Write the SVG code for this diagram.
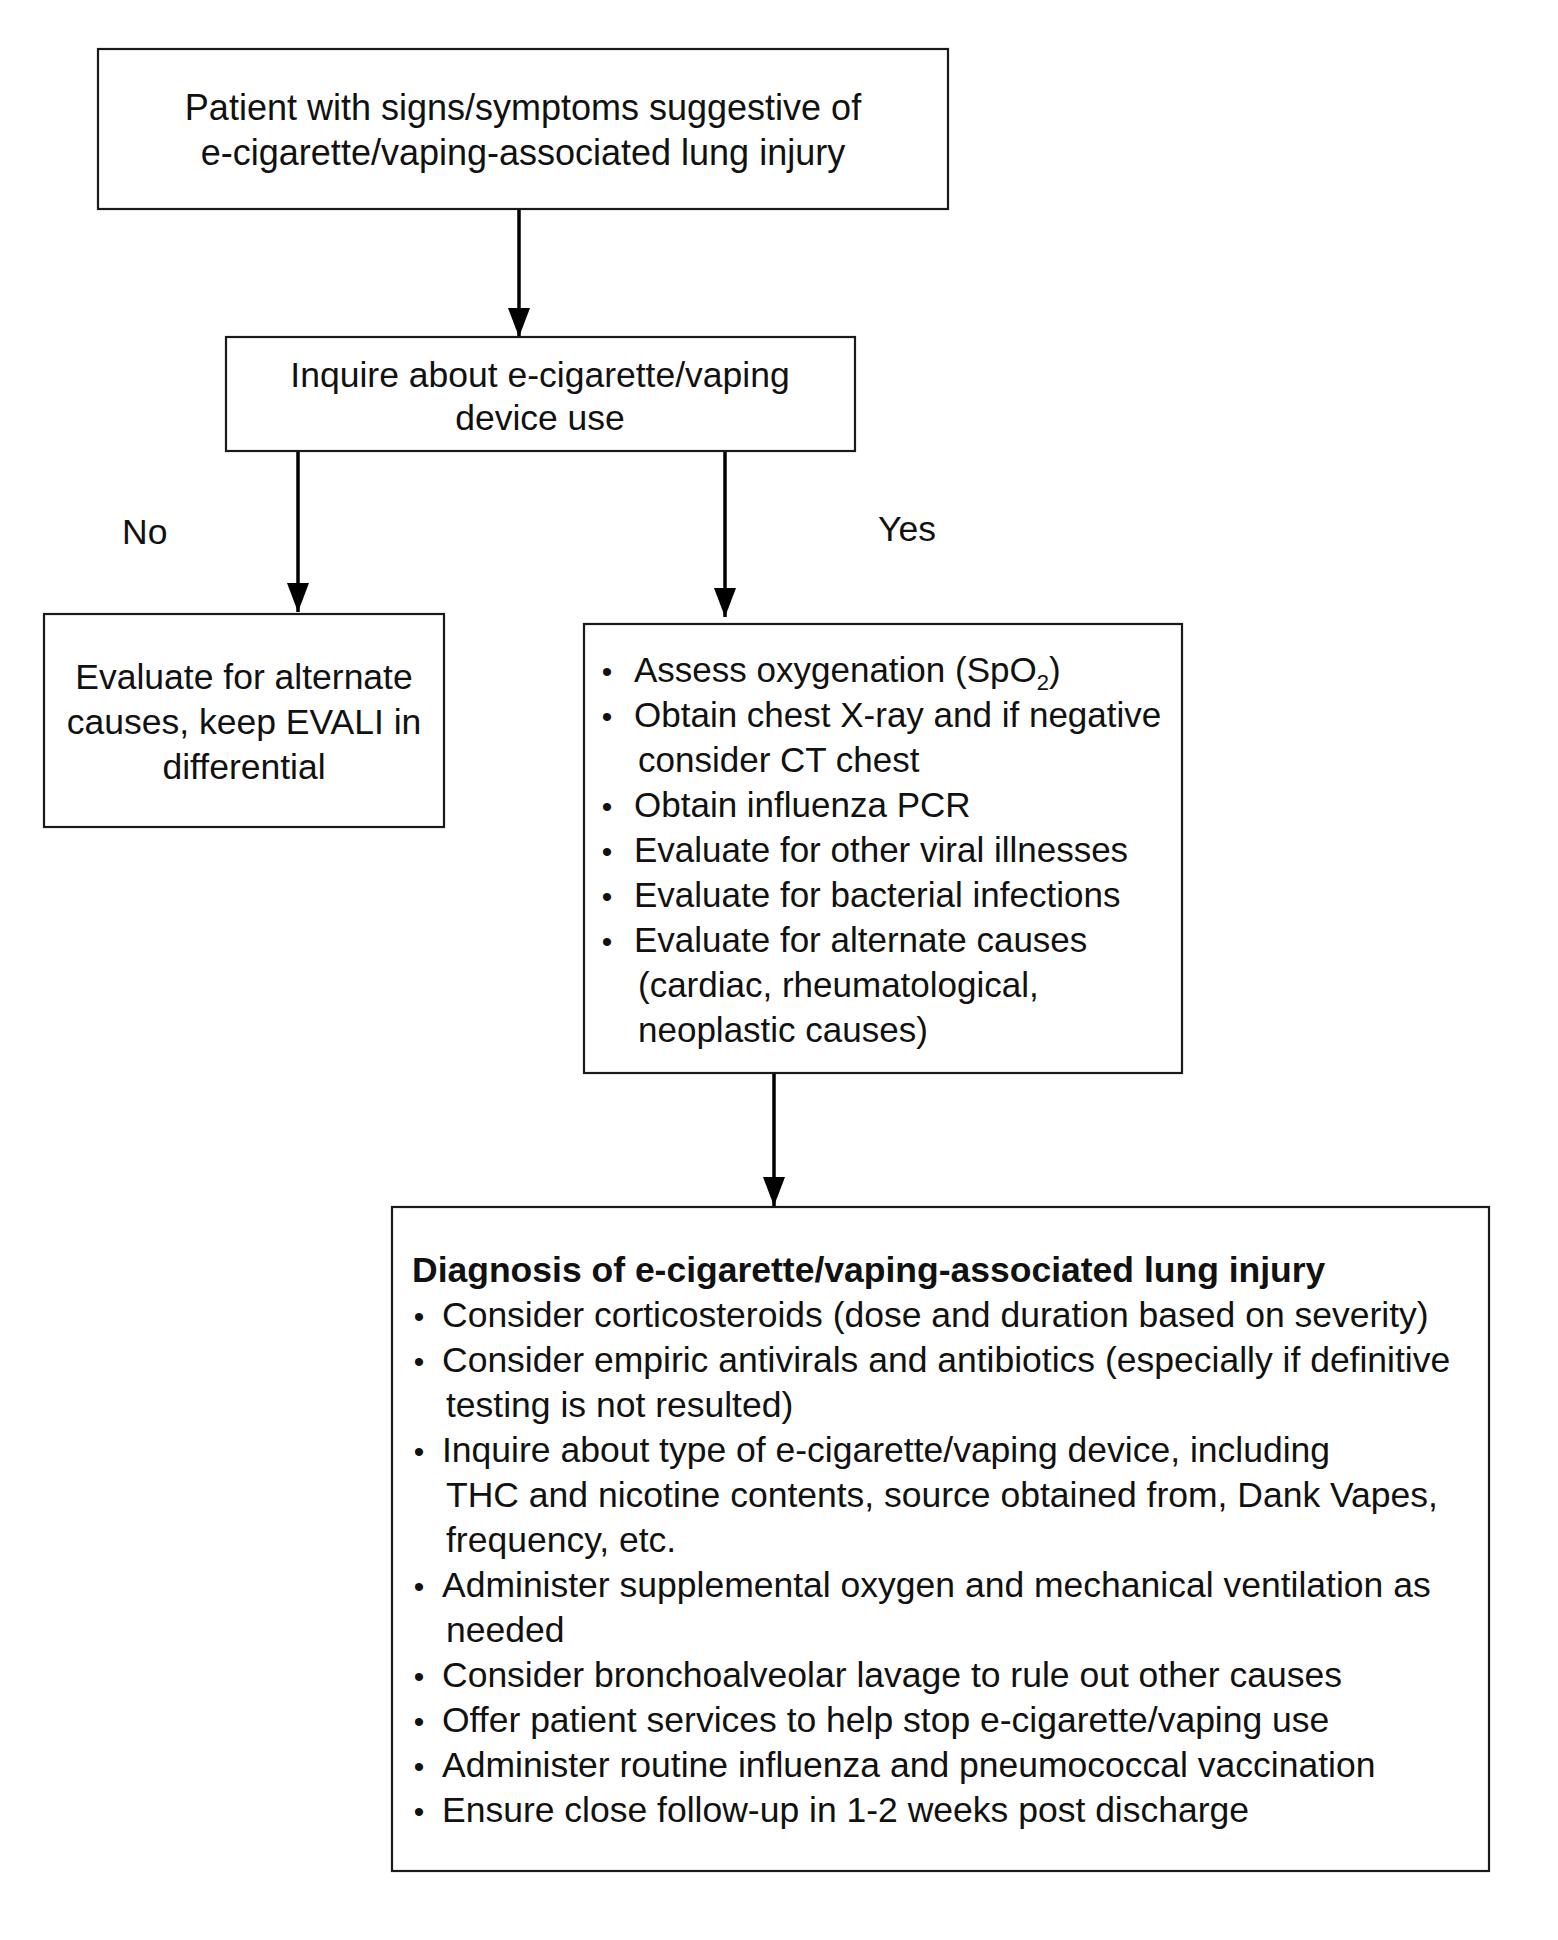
<svg xmlns="http://www.w3.org/2000/svg" width="1558" height="1940" viewBox="0 0 1558 1940">
<defs>
<style>
.box{fill:#fff;stroke:#1a1a1a;stroke-width:2.2}
.t{font-family:"Liberation Sans",Arial,sans-serif;font-size:35.5px;fill:#111}
.c{text-anchor:middle}
.b{font-weight:bold}
.s{font-size:35px}
.dot{font-family:"Liberation Sans",Arial,sans-serif;font-size:30px;fill:#111;text-anchor:middle}
.sub{font-size:22px}
.edge{stroke:#000;stroke-width:3.5;fill:none;marker-end:url(#ah)}
</style>
<marker id="ah" markerUnits="userSpaceOnUse" markerWidth="30" markerHeight="22" refX="29" refY="11" orient="auto">
<path d="M0,0 L29,11 L0,22 z" fill="#000"/>
</marker>
</defs>
<rect width="1558" height="1940" fill="#fff"/>

<g id="connectors">
<line class="edge" x1="519" y1="209" x2="519" y2="337"/>
<line class="edge" x1="298" y1="451" x2="298" y2="612"/>
<line class="edge" x1="725" y1="451" x2="725" y2="617"/>
<line class="edge" x1="774" y1="1073" x2="774" y2="1206"/>
<text class="t" x="122" y="544">No</text>
<text class="t" x="878" y="541">Yes</text>
</g>

<g id="n1">
<rect class="box" x="98" y="49" width="850" height="160"/>
<text class="t c" x="523" y="120" style="font-size:36px">Patient with signs/symptoms suggestive of</text>
<text class="t c" x="523" y="165" style="font-size:36px">e-cigarette/vaping-associated lung injury</text>
</g>

<g id="n2">
<rect class="box" x="226" y="337" width="629" height="114"/>
<text class="t c" x="540" y="387">Inquire about e-cigarette/vaping</text>
<text class="t c" x="540" y="430">device use</text>
</g>

<g id="n3">
<rect class="box" x="44" y="614" width="400" height="213"/>
<text class="t c" x="244" y="689">Evaluate for alternate</text>
<text class="t c" x="244" y="734">causes, keep EVALI in</text>
<text class="t c" x="244" y="779">differential</text>
</g>

<g id="n4">
<rect class="box" x="584" y="624" width="598" height="449"/>
<text class="dot" x="607" y="682">•</text>
<text class="t s" x="634" y="682">Assess oxygenation (SpO<tspan class="sub" dy="8">2</tspan><tspan dy="-8">)</tspan></text>
<text class="dot" x="607" y="727">•</text>
<text class="t s" x="634" y="727">Obtain chest X-ray and if negative</text>
<text class="t s" x="638" y="772">consider CT chest</text>
<text class="dot" x="607" y="817">•</text>
<text class="t s" x="634" y="817">Obtain influenza PCR</text>
<text class="dot" x="607" y="862">•</text>
<text class="t s" x="634" y="862">Evaluate for other viral illnesses</text>
<text class="dot" x="607" y="907">•</text>
<text class="t s" x="634" y="907">Evaluate for bacterial infections</text>
<text class="dot" x="607" y="952">•</text>
<text class="t s" x="634" y="952">Evaluate for alternate causes</text>
<text class="t s" x="638" y="997">(cardiac, rheumatological,</text>
<text class="t s" x="638" y="1042">neoplastic causes)</text>
</g>

<g id="n5">
<rect class="box" x="392" y="1207" width="1097" height="664"/>
<text class="t b" x="412" y="1282">Diagnosis of e-cigarette/vaping-associated lung injury</text>
<text class="dot" x="419" y="1327">•</text>
<text class="t" x="442" y="1327">Consider corticosteroids (dose and duration based on severity)</text>
<text class="dot" x="419" y="1372">•</text>
<text class="t" x="442" y="1372">Consider empiric antivirals and antibiotics (especially if definitive</text>
<text class="t" x="446" y="1417">testing is not resulted)</text>
<text class="dot" x="419" y="1462">•</text>
<text class="t" x="442" y="1462">Inquire about type of e-cigarette/vaping device, including</text>
<text class="t" x="446" y="1507">THC and nicotine contents, source obtained from, Dank Vapes,</text>
<text class="t" x="446" y="1552">frequency, etc.</text>
<text class="dot" x="419" y="1597">•</text>
<text class="t" x="442" y="1597">Administer supplemental oxygen and mechanical ventilation as</text>
<text class="t" x="446" y="1642">needed</text>
<text class="dot" x="419" y="1687">•</text>
<text class="t" x="442" y="1687">Consider bronchoalveolar lavage to rule out other causes</text>
<text class="dot" x="419" y="1732">•</text>
<text class="t" x="442" y="1732">Offer patient services to help stop e-cigarette/vaping use</text>
<text class="dot" x="419" y="1777">•</text>
<text class="t" x="442" y="1777">Administer routine influenza and pneumococcal vaccination</text>
<text class="dot" x="419" y="1822">•</text>
<text class="t" x="442" y="1822">Ensure close follow-up in 1-2 weeks post discharge</text>
</g>
</svg>
